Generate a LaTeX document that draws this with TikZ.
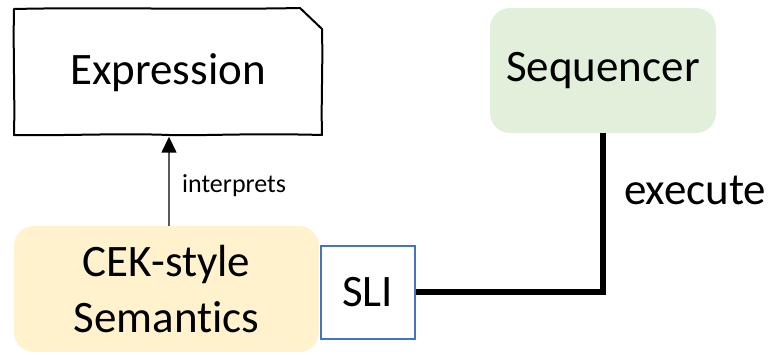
\documentclass[tikz,border=0pt]{standalone}
\usepackage{fontspec}
\setmainfont{Carlito}[Ligatures=NoCommon]
\usetikzlibrary{arrows.meta}
\definecolor{cekyellow}{HTML}{FFF2CC}
\definecolor{seqgreen}{HTML}{E2EFDA}
\definecolor{sliblue}{HTML}{4472C4}
\begin{document}
\begin{tikzpicture}[x=1pt,y=-1pt,
  bigtext/.style={font=\fontsize{45}{50}\selectfont, align=center, inner sep=0pt},
  smalltext/.style={font=\fontsize{26}{30}\selectfont, inner sep=0pt},
  roundbox/.style={bigtext, rounded corners=20pt, draw=none},
  slibox/.style={bigtext, draw=sliblue, line width=2pt, fill=white},
  interparrow/.style={line width=1.5pt, draw=black!65,
    -{Triangle[length=16pt,width=15pt,color=black]}}
]
\useasboundingbox (0,0) rectangle (777,354);

% Expression (hand-drawn box)
\node[bigtext, minimum width=308pt, minimum height=127pt] (expr) at (168,73) {Expression};
\draw[line width=2pt, line join=round]
  (14,9) .. controls (100,7) and (200,10) .. (300,8)
  -- (322,29)
  .. controls (323,70) and (321,100) .. (322,135)
  .. controls (250,133) and (200,136) .. (169,135)
  .. controls (120,133) and (60,136) .. (14,135)
  .. controls (15,100) and (13,50) .. cycle;

% CEK-style Semantics
\node[roundbox, fill=cekyellow, minimum width=305pt, minimum height=126pt] (cek) at (166.5,289) {CEK-style\\[6pt]Semantics};

% SLI
\node[slibox, minimum width=94pt, minimum height=93pt] (sli) at (367.5,292) {SLI};

% Sequencer
\node[roundbox, fill=seqgreen, minimum width=226pt, minimum height=125pt] (seq) at (603,70.5) {Sequencer};

% interprets arrow
\draw[interparrow] (cek.north -| 169,0) -- (expr.south -| 169,0);
\node[smalltext, anchor=west] (interp) at (182,186) {interprets};

% execute connector
\draw[line width=6pt, line join=miter] (sli.east) -- (sli.east -| seq.south) -- (seq.south);
\node[bigtext, anchor=west] (exec) at (624,190) {execute};
\end{tikzpicture}
\end{document}
